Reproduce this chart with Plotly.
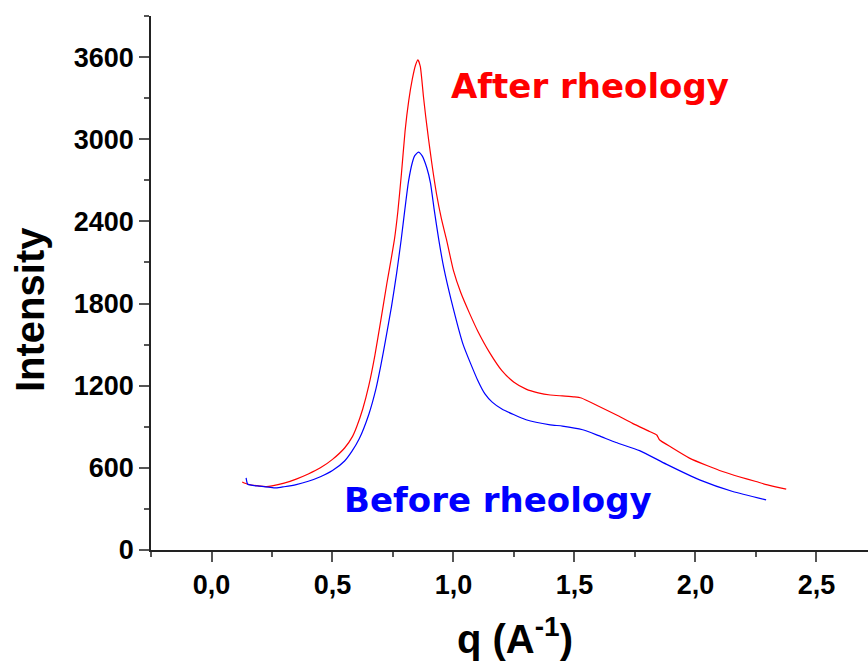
import plotly.graph_objects as go

# After rheology (red)
q_after = [0.127, 0.15, 0.2, 0.227, 0.25, 0.3, 0.35, 0.4, 0.45, 0.5, 0.55, 0.583,
           0.6, 0.625, 0.65, 0.675, 0.7, 0.725, 0.74, 0.756, 0.77, 0.785, 0.8, 0.815,
           0.83, 0.843, 0.853, 0.863, 0.876, 0.885, 0.897, 0.91, 0.93, 0.95, 0.971,
           1.0, 1.03, 1.066, 1.1, 1.15, 1.2, 1.25, 1.3, 1.35, 1.4, 1.45, 1.5, 1.528,
           1.6, 1.672, 1.74, 1.81, 1.84, 1.851, 1.9, 1.975, 2.05, 2.112, 2.18,
           2.25, 2.31, 2.375]
i_after = [497, 480, 466, 463, 468, 488, 518, 555, 600, 662, 745, 830,
           900, 1030, 1200, 1420, 1680, 1950, 2100, 2268, 2470, 2750, 3060, 3280,
           3440, 3540, 3580, 3530, 3310, 3170, 3000, 2830, 2600, 2420, 2268,
           2040, 1880, 1730, 1600, 1440, 1310, 1225, 1175, 1148, 1132, 1125, 1118, 1110,
           1050, 988, 925, 866, 840, 805, 750, 671, 615, 573, 535,
           500, 470, 444]

# Before rheology (blue)
q_before = [0.143, 0.15, 0.2, 0.267, 0.3, 0.35, 0.4, 0.45, 0.5, 0.55, 0.58, 0.61,
            0.65, 0.68, 0.7, 0.72, 0.744, 0.765, 0.784, 0.8, 0.814, 0.83, 0.84,
            0.855, 0.87, 0.89, 0.905, 0.92, 0.939, 0.96, 0.99,
            1.04, 1.1, 1.13, 1.16, 1.2, 1.3, 1.4, 1.45, 1.534, 1.6, 1.672, 1.769,
            1.879, 2.017, 2.154, 2.292]
i_before = [527, 480, 466, 453, 462, 478, 502, 535, 580, 650, 720, 810,
            990, 1180, 1350, 1540, 1780, 2020, 2268, 2500, 2690, 2830, 2880,
            2906, 2880, 2790, 2680, 2490, 2268, 2060, 1829,
            1500, 1240, 1140, 1080, 1030, 951, 914, 905, 878, 835, 785, 726,
            627, 512, 427, 366]

x_ticks = [0.0, 0.5, 1.0, 1.5, 2.0, 2.5]
y_ticks = [0, 600, 1200, 1800, 2400, 3000, 3600]

fig = go.Figure()
fig.add_trace(go.Scatter(x=q_after, y=i_after, mode="lines",
                         line=dict(color="#FF0000", width=1.2, shape="spline", smoothing=0.5),
                         name="After rheology"))
fig.add_trace(go.Scatter(x=q_before, y=i_before, mode="lines",
                         line=dict(color="#0000FF", width=1.2, shape="spline", smoothing=0.5),
                         name="Before rheology"))

tickfont = dict(family="Liberation Sans", size=27, color="black", weight="bold")

fig.update_layout(
    width=868, height=671,
    margin=dict(l=151, r=0, t=16, b=121),
    plot_bgcolor="white", paper_bgcolor="white",
    showlegend=False,
    separators=",.",
    xaxis=dict(range=[-0.25, 2.713], tickvals=x_ticks, tickformat=".1f",
               ticks="outside", ticklen=10, tickwidth=1.5, tickcolor="#555",
               showline=True, linecolor="#222", linewidth=1.5,
               showgrid=False, zeroline=False, tickfont=tickfont,
               minor=dict(dtick=0.25, tick0=0, ticks="outside", ticklen=5,
                          tickwidth=1.5, tickcolor="#555", showgrid=False)),
    yaxis=dict(range=[0, 3900], tickvals=y_ticks,
               ticks="outside", ticklen=10, tickwidth=1.5, tickcolor="#555",
               showline=True, linecolor="#222", linewidth=1.5,
               showgrid=False, zeroline=False, tickfont=tickfont,
               minor=dict(dtick=300, tick0=0, ticks="outside", ticklen=5,
                          tickwidth=1.5, tickcolor="#555", showgrid=False)),
)

fig.add_annotation(text="Intensity", xref="paper", yref="paper",
                   x=-0.169, y=0.451, xanchor="center", yanchor="middle",
                   textangle=-90, showarrow=False,
                   font=dict(family="Liberation Sans", size=40, color="black", weight="bold"))
fig.add_annotation(text="q (A<sup>-1</sup>)", xref="paper", yref="paper",
                   x=0.508, y=-0.161, xanchor="center", yanchor="middle",
                   showarrow=False,
                   font=dict(family="Liberation Sans", size=40, color="black", weight="bold"))
fig.add_annotation(text="After rheology", x=0.983, y=3387, xanchor="left", yanchor="middle",
                   showarrow=False,
                   font=dict(family="DejaVu Sans", size=34, color="#FF0000", weight="bold"))
fig.add_annotation(text="Before rheology", x=0.541, y=366, xanchor="left", yanchor="middle",
                   showarrow=False,
                   font=dict(family="DejaVu Sans", size=34, color="#0000FF", weight="bold"))

fig.write_html("out.html")
